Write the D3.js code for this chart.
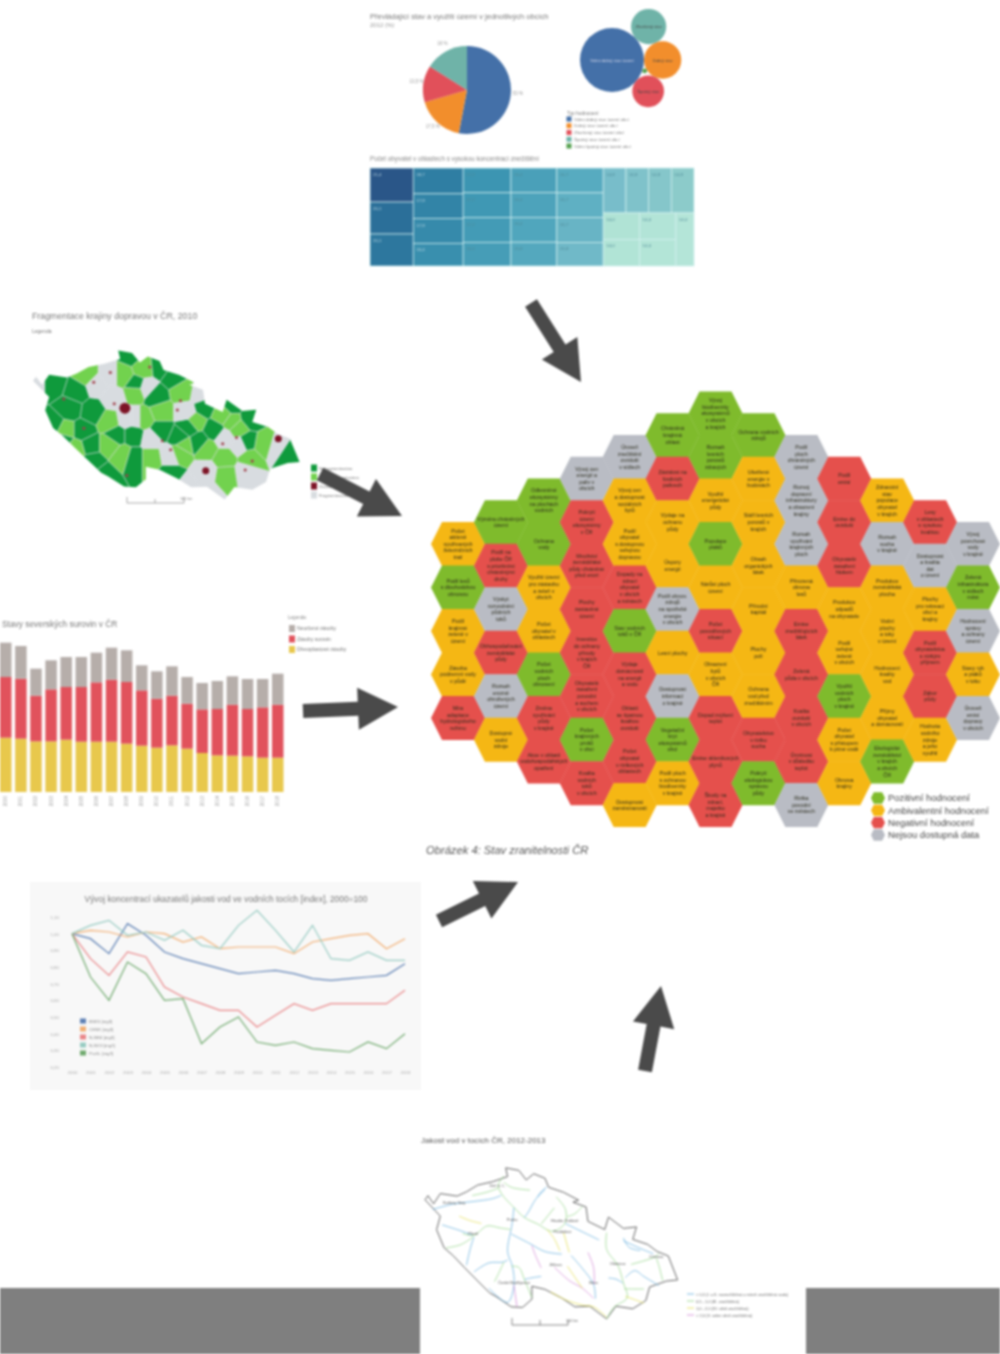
<!DOCTYPE html>
<html>
<head>
<meta charset="utf-8">
<script src="https://cdn.jsdelivr.net/npm/d3@7"></script>
<style>
  html, body { margin: 0; padding: 0; background: #fff; }
  svg { display: block; filter: blur(0.9px); font-family: "Liberation Sans", Arial, sans-serif; }
</style>
</head>
<body>
<svg id="chart" width="1000" height="1354"></svg>
<script>
// ---- data ----
const shareNames = ["Velmi dobrý stav", "Dobrý stav", "Zhoršený stav", "Špatný stav", "Velmi špatný stav"];
const pieValues = [53, 17.5, 13.5, 16];
const bubbleValues = [53, 18, 16, 0.3, 13];
const bubbleNames = ["Velmi dobrý stav území", "Dobrý stav", "Zhoršený stav", "", "Špatný stav"];

const treeColumns = [
  [1430, 1344, 1344],
  [1250, 1200, 1200, 1100],
  [1150, 1150, 1150, 1100],
  [1100, 1100, 1100, 1060],
  [1120, 1120, 1120, 1060]
];
const treeTopRow = [990, 990, 990, 990];
const treeBottomCols = [[936, 936], [936, 936], [936]];
const treeLabels = ["21,4", "20,1", "20,1", "18,7", "17,9", "17,9", "16,4", "17,2", "17,2", "17,2", "16,4",
  "16,4", "16,4", "16,4", "15,8", "16,7", "16,7", "16,7", "15,8", "14,8", "14,8", "14,8", "14,8", "14,0", "14,0", "14,0", "14,0", "14,0"];

const barYears = ["2000", "2001", "2002", "2003", "2004", "2005", "2006", "2007", "2008", "2009", "2010", "2011", "2012", "2013", "2014", "2015", "2016", "2017", "2018"];
const barYellow = [163, 160, 152, 152, 157, 151, 151, 151, 145, 139, 133, 140, 130, 117, 110, 109, 107, 103, 103];
const barRed = [182, 180, 137, 156, 158, 164, 178, 186, 185, 166, 147, 149, 135, 131, 139, 153, 142, 151, 159];
const barGrey = [103, 98, 81, 87, 90, 90, 89, 96, 95, 75, 82, 88, 80, 79, 84, 85, 90, 85, 93];
const barLegend = ["Neurčené zásoby", "Zásoby surovin", "Dřevoplastové zásoby"];

const lineYears = barYears;
const lineBlue = [1, .97, .88, 1.06, .99, .89, .85, .82, .79, .76, .77, .78, .76, .73, .72, .73, .74, .75, .82];
const lineOrange = [1, 1.02, 1.01, .98, 1.01, 1.0, .95, .98, .91, .92, .92, .92, .88, .95, .97, .99, 1.0, .91, .97];
const lineRed = [1, .85, .75, .89, .86, .68, .62, .58, .54, .54, .44, .51, .58, .54, .58, .58, .58, .58, .66];
const lineTeal = [1, 1.05, 1.08, .99, 1.01, .96, 1.02, .93, .91, 1.05, 1.14, 1.02, .89, 1.05, .85, .84, .89, .84, .84];
const lineGreen = [1, .74, .6, .83, .76, .6, .61, .34, .44, .5, .35, .33, .35, .31, .3, .29, .35, .31, .4];
const lineNames = ["BSK5 [mg/l]", "CHSK [mg/l]", "N-NH4 [mg/l]", "N-NO3 [mg/l]", "Pcelk. [mg/l]"];
const lineTicks = [.2, .3, .4, .5, .6, .7, .8, .9, 1, 1.1];

// hexagon grid: first half-row of every column, status letters and labels
const hexStart = [0, -1, -2, -3, -4, -5, -6, -5, -4, -3, -2, -1, 0];
const hexStatus = ["APAAN", "PNXNXA", "PPAAPNN", "XNNNNNPN", "XAANPNNNA", "PNAAXAXPA", "PPAPANANNN", "PAAAAAANP", "XXXANNNNX", "NNNAAPAA", "AXAAAAP", "NXANNA", "XPXAX"];
const hexLabels = [
  ["Počet|aktivně|využívaných|železničních|tratí", "Podíl lesů|s dlouhodobou|obnovou", "Podíl|krajinné|zeleně v|území", "Zásoba|podzemní vody|v půdě", "Míra|adaptace|hydrologického|režimu"],
  ["Výměra chráněných|území", "Podíl na|ploše ČR|s prioritními|chráněnými|druhy", "Výskyt|rozvodnění|půdních|toků", "Obhospodařování|zemědělské|půdy", "Rozsah|erozně|ohrožených|území", "Dostupné|vodní|zdroje"],
  ["Odlesněné|ekosystémy|na plochách|vodních", "Ochrana|vody", "Využití území|pro zástavbu|a zeleň v|obcích", "Počet|obyvatel v|oblastech", "Počet|vodních|ploch|obnovení", "Změna|využívání|půdy|v krajině", "Akce v oblasti|vodohospodářských|opatření"],
  ["Vývoj cen|energií a|paliv v|obcích", "Pokrytí|území|ekosystémy|v ČR", "Množství|zemědělské|půdy chráněné|před erozí", "Plochy|zastavěné|území", "Investice|do ochrany|přírody|v krajích|ČR", "Obyvatelé|zasažení|povodní|a suchem|v obcích", "Počet|krajinných|prvků|v obci", "Kvalita|vodních|toků|v obcích"],
  ["Úroveň|znečištění|ovzduší|v sídlech", "Vývoj cen|a dostupnost|sociálních|bytů", "Podíl|obyvatel|s dostupnou|veřejnou|dopravou", "Dopady na|zdraví|obyvatel|v obcích|a městech", "Stav vodních|toků v ČR", "Výdaje|domácností|na energii|a vodu", "Oblasti|se špatnou|kvalitou|ovzduší", "Počet|obyvatel|v rizikových|oblastech", "Dostupnost|zaměstnanosti"],
  ["Chráněná|krajinná|oblast", "Závislost na|fosilních|palivech", "Výdaje na|ochranu|půdy", "Úspory|energií", "Podíl obnov.|zdrojů|na spotřebě|energie|v obcích", "Lesní plochy", "Dostupnost|informací|o krajině", "Vegetační|kryt|ekosystémů|obcí", "Podíl ploch|s ochranou|biodiverzity|v krajině"],
  ["Vývoj|biodiverzity|ekosystémů|v obcích|a krajích", "Rozsah|lesních|porostů|zdravých", "Využití|energetické|půdy", "Populace|ptáků", "Nárůst ploch|území", "Počet|povodňových|situací", "Obsazení|bytů|v obcích|ČR", "Dopad zvýšení|teplot", "Emise skleníkových|plynů", "Škody na|zdraví,|majetku|a krajině"],
  ["Ochrana vodních|zdrojů", "Ušetřené|energie v|budovách", "Stáří lesních|porostů v|krajích", "Obsah|organických|látek", "Přírodní|kapitál", "Plochy|polí", "Ochrana|vod před|znečištěním", "Obyvatelstvo|v riziku|sucha", "Pokrytí|ekologickou|správou|půdy"],
  ["Podíl|ploch|chráněných|území", "Rozvoj|dopravní|infrastruktury|a obsazení|krajiny", "Rozsah|využívání|krajinných|ploch", "Přirozená|obnova|lesů", "Emise|znečišťujících|látek", "Zelená|půda v obcích", "Kvalita|ovzduší|v obcích", "Úmrtnost|v důsledku|teplot", "Rizika|povodní|ve městech"],
  ["Podíl|emisí", "Emise do|ovzduší", "Obyvatelé|zasažení|hlukem", "Produkce|odpadů|na obyvatele", "Podíl|veřejné|zeleně|v obcích", "Využití|vodních|ploch|v krajině", "Počet|obyvatel|s přístupem|k pitné vodě", "Obnova|krajiny"],
  ["Zdravotní|stav|populace|obyvatel|v krajích", "Rozsah|sucha|v krajině", "Produkce|zemědělská|plocha", "Vodní|plochy|a toky|v území", "Hodnocení|kvality|vod", "Příjmy|obyvatel|a domácností", "Ekologické|zemědělství|v krajích|a obcích|ČR"],
  ["Lesy|v oblastech|s vysokou|kvalitou", "Dostupnost|a kvalita|dat|o území", "Plochy|pro rekreaci|obcí a|krajiny", "Podíl|obyvatelstva|s nízkým|příjmem", "Zábor|půdy", "Hodnota|vodního|zdroje|a jeho|využití"],
  ["Vývoj|povrchové|vody|v krajině", "Zelená|infrastruktura|v sídlech|měst", "Hodnocení|správy|a ochrany|území", "Stavy ryb|a ptáků|v toku", "Úroveň|emisí|dopravy|v obcích"]
];
const hexLegend = ["Pozitivní hodnocení", "Ambivalentní hodnocení", "Negativní hodnocení", "Nejsou dostupná data"];

// Czech border [lon, lat], the maps in the picture are tilted so y gets a skew below
const czOutline = [[12.09, 50.25], [12.17, 50.33], [12.32, 50.2], [12.5, 50.4], [12.95, 50.4], [13.2, 50.5], [13.5, 50.65], [13.9, 50.75], [14.3, 50.88], [14.25, 51.03], [14.6, 51.02], [14.8, 50.87], [15.0, 51.0], [15.3, 50.95], [15.4, 50.8], [15.8, 50.75], [16.2, 50.65], [16.05, 50.6], [16.4, 50.55], [16.45, 50.3], [16.9, 50.2], [17.0, 50.43], [17.4, 50.27], [17.75, 50.33], [17.65, 50.1], [18.05, 50.05], [18.3, 49.95], [18.6, 49.9], [18.85, 49.5], [18.55, 49.45], [18.1, 49.3], [18.0, 49.05], [17.65, 48.87], [17.2, 48.87], [16.95, 48.62], [16.5, 48.8], [16.1, 48.75], [15.75, 48.87], [15.3, 48.98], [14.95, 49.0], [14.95, 48.77], [14.7, 48.6], [14.4, 48.58], [14.0, 48.72], [13.82, 48.77], [13.5, 48.95], [13.15, 49.15], [12.85, 49.33], [12.6, 49.45], [12.4, 49.75], [12.5, 50.0]];
// patches were read straight off the flat picture, so these go through the untilted scale
const patchDark = [[12.6, 50.47], [13.19, 50.35], [13.02, 50.08], [13.61, 50.02], [12.6, 49.8], [13.36, 49.7], [12.85, 49.59], [13.53, 49.48], [14.63, 49.64], [14.2, 49.64], [13.87, 48.98], [13.61, 49.2], [14.63, 49.26], [15.55, 48.99], [16.43, 50.1], [17.14, 50.13], [15.2, 50.27], [15.33, 50.76], [15.67, 50.6], [14.58, 50.95], [14.71, 50.46], [15.33, 49.72], [16.05, 49.78], [16.68, 49.72], [16.3, 49.53], [17.51, 49.53], [18.53, 49.31], [17.6, 49.91], [15.8, 49.59]];
const patchLight = [[14.37, 50.62], [14.88, 50.73], [14.7, 50.35], [15.9, 50.35], [13.44, 50.62], [12.9, 49.7], [13.19, 49.42], [14.03, 49.86], [14.03, 49.48], [14.37, 49.31], [15.33, 50.02], [14.9, 49.91], [15.9, 49.48], [16.5, 49.42], [16.97, 48.99], [17.6, 49.26], [17.14, 49.86], [17.3, 49.75], [17.95, 49.48], [16.9, 49.97], [16.2, 49.86], [15.8, 49.37], [16.94, 49.26], [15.1, 49.26]];
const patchGrey = [[14.12, 50.24], [14.46, 49.91], [14.96, 50.41], [15.98, 50.02], [16.49, 49.04], [16.49, 48.71], [17.34, 49.48], [18.27, 49.42], [12.17, 50.47], [13.7, 50.46], [16.32, 50.3], [15.55, 49.31], [16.94, 49.59], [15.98, 48.77], [17.5, 49.04], [14.7, 49.91], [16.57, 50.4], [15.1, 49.58], [14.05, 50.62], [13.0, 49.25]];
const cityBig = [[14.42, 50.08], [16.47, 49.06], [18.31, 49.58]];
const citySmall = [[13.38, 49.75], [14.47, 48.98], [15.58, 49.4], [15.83, 50.2], [15.75, 50.05], [15.05, 50.75], [14.05, 50.66], [13.63, 50.5], [12.87, 50.23], [17.25, 49.6], [17.65, 49.22], [17.47, 49.07], [15.37, 49.55], [16.9, 49.5], [14.15, 50.15]];
const fragLegend = ["Nefragmentováno", "Mírně fragmentováno", "Zástavba", "Fragmentováno"];

const rivers = [
  { name: "Vltava", q: 0, pts: [[13.8, 48.85], [14.3, 48.65], [14.47, 48.97], [14.43, 49.3], [14.3, 49.55], [14.42, 50.05], [14.47, 50.35]] },
  { name: "Labe", q: 1, pts: [[15.6, 50.65], [15.85, 50.45], [15.83, 50.2], [15.5, 50.03], [15.1, 50.12], [14.75, 50.2], [14.47, 50.35], [14.15, 50.55], [14.05, 50.7], [14.2, 50.88]] },
  { name: "Ohře", q: 0, pts: [[12.3, 50.1], [12.85, 50.25], [13.4, 50.35], [13.9, 50.45], [14.13, 50.53]] },
  { name: "Berounka", q: 1, pts: [[13.1, 49.75], [13.4, 49.75], [13.75, 49.95], [14.1, 49.95], [14.38, 49.95]] },
  { name: "Sázava", q: 0, pts: [[15.75, 49.65], [15.3, 49.65], [14.9, 49.75], [14.4, 49.87]] },
  { name: "Lužnice", q: 1, pts: [[14.95, 48.8], [14.75, 49.1], [14.6, 49.3], [14.4, 49.3]] },
  { name: "Otava", q: 0, pts: [[13.4, 49.1], [13.8, 49.3], [14.17, 49.35], [14.3, 49.4]] },
  { name: "Morava", q: 1, pts: [[16.95, 50.15], [16.95, 49.85], [17.25, 49.6], [17.4, 49.3], [17.5, 49.05], [17.15, 48.85], [16.95, 48.62]] },
  { name: "Bečva", q: 0, pts: [[18.35, 49.35], [17.95, 49.47], [17.7, 49.55], [17.45, 49.4]] },
  { name: "Dyje", q: 2, pts: [[15.45, 48.95], [15.85, 48.85], [16.3, 48.8], [16.6, 48.8], [16.95, 48.65]] },
  { name: "Jihlava", q: 3, pts: [[15.55, 49.4], [15.95, 49.2], [16.3, 49.1], [16.6, 48.95]] },
  { name: "Svratka", q: 0, pts: [[16.0, 49.65], [16.3, 49.45], [16.6, 49.2], [16.65, 48.95]] },
  { name: "Svitava", q: 3, pts: [[16.45, 49.75], [16.6, 49.5], [16.62, 49.2]] },
  { name: "Odra", q: 1, pts: [[17.6, 49.65], [17.95, 49.75], [18.25, 49.85], [18.35, 49.92]] },
  { name: "Opava", q: 0, pts: [[17.4, 50.05], [17.9, 49.95], [18.2, 49.9]] },
  { name: "Ostravice", q: 1, pts: [[18.45, 49.45], [18.35, 49.7], [18.28, 49.83]] },
  { name: "Orlice", q: 0, pts: [[16.75, 50.0], [16.3, 50.1], [15.85, 50.2]] },
  { name: "Jizera", q: 0, pts: [[15.3, 50.75], [15.05, 50.55], [14.85, 50.3], [14.75, 50.2]] },
  { name: "Ploučnice", q: 1, pts: [[14.9, 50.7], [14.4, 50.7], [14.2, 50.77]] },
  { name: "Chrudimka", q: 2, pts: [[15.95, 49.7], [15.8, 50.03]] },
  { name: "Cidlina", q: 1, pts: [[15.55, 50.45], [15.2, 50.13]] },
  { name: "Mže", q: 0, pts: [[12.55, 49.85], [13.0, 49.8], [13.35, 49.75]] },
  { name: "Malše", q: 3, pts: [[14.55, 48.6], [14.47, 48.97]] },
  { name: "Oslava", q: 2, pts: [[15.9, 49.45], [16.3, 49.1]] },
  { name: "Želivka", q: 3, pts: [[15.2, 49.35], [15.05, 49.55], [14.95, 49.72]] },
  { name: "Blanice", q: 1, pts: [[13.95, 48.98], [14.1, 49.2], [14.2, 49.35]] },
  { name: "Radbuza", q: 1, pts: [[12.65, 49.45], [13.05, 49.55], [13.38, 49.72]] },
  { name: "Úhlava", q: 0, pts: [[13.2, 49.2], [13.3, 49.5], [13.4, 49.72]] },
  { name: "Střela", q: 2, pts: [[13.0, 50.05], [13.3, 50.0], [13.6, 49.98]] },
  { name: "Bílina", q: 1, pts: [[13.35, 50.45], [13.75, 50.55], [14.05, 50.65]] },
  { name: "Doubrava", q: 2, pts: [[15.7, 49.7], [15.55, 49.9], [15.35, 50.05]] },
  { name: "Dřevnice", q: 1, pts: [[17.95, 49.25], [17.65, 49.22], [17.42, 49.2]] },
  { name: "Olšava", q: 2, pts: [[17.95, 49.0], [17.6, 49.05], [17.45, 49.07]] },
  { name: "Haná", q: 0, pts: [[17.0, 49.35], [17.2, 49.35], [17.38, 49.3]] },
  { name: "Moravice", q: 0, pts: [[17.4, 50.1], [17.55, 49.95], [17.85, 49.92]] },
  { name: "Nežárka", q: 0, pts: [[15.2, 49.2], [14.95, 49.15], [14.75, 49.1]] },
  { name: "Metuje", q: 1, pts: [[16.3, 50.55], [16.1, 50.4], [15.9, 50.33]] },
  { name: "Kamenice", q: 0, pts: [[15.35, 50.8], [15.2, 50.7], [15.1, 50.6]] }
];
const riverTowns = [["Praha", 14.42, 50.1], ["Plzeň", 13.38, 49.75], ["Hradec Králové", 15.83, 50.22], ["Pardubice", 15.77, 50.03], ["Jihlava", 15.58, 49.42], ["Brno", 16.6, 49.2], ["Ostrava", 18.28, 49.84], ["Olomouc", 17.25, 49.6], ["České Budějovice", 14.47, 49.0], ["Karlovy Vary", 12.87, 50.25], ["Ústí n. L.", 14.03, 50.66]];
const riverLegend = ["< 0,5 (I. a II. neznečištěná a mírně znečištěná voda)", "0,5 - 1,0 (III. znečištěná)", "1,0 - 2,0 (IV. silně znečištěná)", "> 2,0 (V. velmi silně znečištěná)"];

// ---- drawing ----
const svg = d3.select("#chart");
const grey = "#666";

// grey band behind the bottom map
svg.append("rect").attr("x", 0).attr("y", 1288).attr("width", 1000).attr("height", 66).attr("fill", "#7f7f7f");
svg.append("rect").attr("x", 420).attr("y", 1240).attr("width", 386).attr("height", 114).attr("fill", "#fff");

function label(g, x, y, text, size, fill, anchor) {
  return g.append("text").attr("x", x).attr("y", y).attr("font-size", size)
    .attr("fill", fill || grey).attr("text-anchor", anchor || "start").text(text);
}

// --- top: pie, bubbles, treemap ---
const shareColor = ["#4470a8", "#f28e2c", "#e1505a", "#6fb3a8", "#55a04f"];
const topG = svg.append("g");
label(topG, 370, 19, "Převládající stav a využití území v jednotlivých obcích", 7.5, "#777");
label(topG, 370, 27, "2012 (%)", 6, "#999");

const pieCx = 467, pieCy = 90;
const pieG = topG.append("g").attr("transform", `translate(${pieCx},${pieCy})`);
const pieArcs = d3.pie().sort(null)(pieValues);
const arc = d3.arc().innerRadius(0).outerRadius(44);
pieG.selectAll("path").data(pieArcs).join("path")
  .attr("d", arc)
  .attr("fill", (d, i) => [shareColor[0], shareColor[1], shareColor[2], shareColor[3]][i]);
const pieLabel = d3.arc().innerRadius(51).outerRadius(51);
pieG.selectAll("text").data(pieArcs).join("text")
  .attr("transform", d => `translate(${pieLabel.centroid(d)})`)
  .attr("text-anchor", "middle").attr("font-size", 4.5).attr("fill", "#999")
  .text(d => String(d.value).replace(".", ",") + " %");

const rScale = d3.scaleSqrt().domain([0, d3.max(bubbleValues)]).range([0, 32]);
const bubbles = bubbleValues.map((v, i) => ({ r: rScale(v), i }));
d3.packSiblings(bubbles);
const flip = bubbles[2].y > 0 ? -1 : 1;
const bubbleG = topG.append("g").attr("transform", `translate(${612 - bubbles[0].x},${60 - flip * bubbles[0].y})`);
bubbleG.selectAll("circle").data(bubbles).join("circle")
  .attr("cx", d => d.x).attr("cy", d => flip * d.y).attr("r", d => d.r)
  .attr("fill", d => [shareColor[0], shareColor[1], shareColor[3], shareColor[4], shareColor[2]][d.i]);
bubbleG.selectAll("text").data(bubbles).join("text")
  .attr("x", d => d.x).attr("y", d => flip * d.y + 1.5).attr("text-anchor", "middle")
  .attr("font-size", 4.2).attr("fill", d => d.i === 0 ? "#dde" : "#444")
  .text(d => bubbleNames[d.i]);

label(topG, 567, 115, "Typ hodnocení", 4.8, "#777");
shareNames.forEach((n, i) => {
  const y = d3.scaleLinear().domain([0, 4]).range([119, 146])(i);
  topG.append("rect").attr("x", 566.5).attr("y", y - 2.5).attr("width", 5).attr("height", 5).attr("fill", shareColor[i]);
  label(topG, 574, y + 1.5, n + " území obcí", 4.4, "#777");
});

label(topG, 370, 161, "Počet obyvatel v oblastech s vysokou koncentrací znečištění", 6.3, "#888");
const treeData = {
  children: [
    ...treeColumns.map(col => ({ children: col.map(value => ({ value })) })),
    {
      children: [
        { children: treeTopRow.map(value => ({ value })) },
        { children: treeBottomCols.map(col => ({ children: col.map(value => ({ value })) })) }
      ]
    }
  ]
};
const treeRoot = d3.hierarchy(treeData).sum(d => d.value || 0);
d3.treemap()
  .size([324, 98])
  .round(false)
  .tile((node, x0, y0, x1, y1) =>
    (node.depth % 2 === 0 ? d3.treemapDice : d3.treemapSlice)(node, x0, y0, x1, y1))(treeRoot);
const treeLeaves = treeRoot.leaves();
const treeColor = d3.scaleLinear()
  .domain([0, 1, 3, 7, 15, 19, 22, 23, 27])
  .range(["#2a5688", "#2b6f99", "#2f7ea3", "#3c95b2", "#57abc0", "#78bdca", "#8ccbca", "#b0e3d5", "#b4e5d8"]);
const treeG = topG.append("g").attr("transform", "translate(370,168)");
treeG.selectAll("rect").data(treeLeaves).join("rect")
  .attr("x", d => d.x0).attr("y", d => d.y0)
  .attr("width", d => d.x1 - d.x0).attr("height", d => d.y1 - d.y0)
  .attr("fill", (d, i) => treeColor(i)).attr("stroke", "#d4f0f0").attr("stroke-width", 0.7);
treeG.selectAll("text").data(treeLeaves).join("text")
  .attr("x", d => d.x0 + 3).attr("y", d => d.y0 + 8)
  .attr("font-size", 4.4).attr("fill", (d, i) => i < 7 ? "#bcd8e4" : "#4f8a98")
  .text((d, i) => treeLabels[i]);

// --- left: fragmentation map ---
const frag = svg.append("g");
label(frag, 32, 319, "Fragmentace krajiny dopravou v ČR, 2010", 8.8, "#777");
label(frag, 32, 333, "Legenda", 5, "#777");
const mapTilt = 0.15;
const fragX = d3.scaleLinear().domain([12.09, 18.86]).range([33, 300]);
const fragY = d3.scaleLinear().domain([48.56, 51.06]).range([494, 356]);
const fragFlatY = d3.scaleLinear().domain([48.55, 51.06]).range([502, 348]);
const fragLine = d3.line()
  .x(d => fragX(d[0]))
  .y(d => fragY(d[1]) + mapTilt * (fragX(d[0]) - fragX(15.47)))
  .curve(d3.curveLinearClosed);
svg.append("defs").append("clipPath").attr("id", "czClip").append("path").attr("d", fragLine(czOutline));
const fragCells = frag.append("g").attr("clip-path", "url(#czClip)");
const fragSeeds = [
  ...patchDark.map(p => ({ p, color: "#0f9a3c" })),
  ...patchLight.map(p => ({ p, color: "#72d24e" })),
  ...patchGrey.map(p => ({ p, color: "#d8dce0" }))
];
const fragVoronoi = d3.Delaunay.from(fragSeeds, d => fragX(d.p[0]), d => fragFlatY(d.p[1])).voronoi([20, 340, 310, 510]);
fragCells.selectAll("path").data(fragSeeds).join("path")
  .attr("d", (d, i) => fragVoronoi.renderCell(i))
  .attr("fill", d => d.color).attr("stroke", "#d8dce0").attr("stroke-width", 0.5);
fragCells.selectAll("circle.small").data(citySmall).join("circle").attr("class", "small")
  .attr("cx", d => fragX(d[0])).attr("cy", d => fragFlatY(d[1])).attr("r", 1.5).attr("fill", "#a0404a");
fragCells.selectAll("circle.big").data(cityBig).join("circle").attr("class", "big")
  .attr("cx", d => fragX(d[0])).attr("cy", d => fragFlatY(d[1]))
  .attr("r", (d, i) => i === 0 ? 5.5 : 3.5).attr("fill", "#7d1426");
// scale bar
frag.append("path").attr("d", "M127,497V503H184V497M155,499V503").attr("fill", "none").attr("stroke", "#888").attr("stroke-width", 0.7);
label(frag, 180, 500, "100 km", 3.8, "#888");
fragLegend.forEach((n, i) => {
  const y = d3.scaleLinear().domain([0, 3]).range([468, 495])(i);
  frag.append("rect").attr("x", 311).attr("y", y - 3.5).attr("width", 6).attr("height", 7)
    .attr("fill", ["#0f9a3c", "#72d24e", "#7d1426", "#d8dce0"][i]);
  label(frag, 319, y + 1.5, n, 4.2, "#777");
});

// --- left: stacked bars ---
const bars = svg.append("g");
label(bars, 2, 627, "Stavy severských surovin v ČR", 8.4, "#777");
const barX = d3.scaleBand().domain(barYears).range([-1.5, 285]).paddingInner(0.24).paddingOuter(0.1);
const barY = d3.scaleLinear().domain([0, 450]).range([792, 642]);
const barRows = barYears.map((y, i) => ({ year: y, yellow: barYellow[i], red: barRed[i], grey: barGrey[i] }));
const barStack = d3.stack().keys(["yellow", "red", "grey"])(barRows);
const barColor = d3.scaleOrdinal().domain(["yellow", "red", "grey"]).range(["#e8c84c", "#e1525c", "#b6aeaa"]);
bars.selectAll("g").data(barStack).join("g").attr("fill", d => barColor(d.key))
  .selectAll("rect").data(d => d).join("rect")
  .attr("x", d => barX(d.data.year)).attr("width", barX.bandwidth())
  .attr("y", d => barY(d[1])).attr("height", d => barY(d[0]) - barY(d[1]));
const barAxis = bars.append("g").attr("transform", "translate(0,792)")
  .call(d3.axisBottom(barX).tickSize(0).tickPadding(3));
barAxis.select(".domain").remove();
barAxis.selectAll("text").attr("font-size", 4.6).attr("fill", "#999")
  .attr("text-anchor", "end").attr("transform", "rotate(-90)").attr("x", -4).attr("y", 0).attr("dy", "0.32em");
label(bars, 288, 619, "Legenda", 4.6, "#888");
barLegend.forEach((n, i) => {
  const y = d3.scaleLinear().domain([0, 2]).range([628.5, 649.5])(i);
  bars.append("rect").attr("x", 289).attr("y", y - 3.5).attr("width", 6).attr("height", 7)
    .attr("fill", ["#b6aeaa", "#e1525c", "#e8c84c"][i]);
  label(bars, 297, y + 1.5, n, 5, "#777");
});

// --- left: index lines ---
const lines = svg.append("g");
lines.append("rect").attr("x", 30).attr("y", 882).attr("width", 391).attr("height", 208).attr("fill", "#f8f8f8");
label(lines, 226, 902, "Vývoj koncentrací ukazatelů jakosti vod ve vodních tocích [index], 2000=100", 8.4, "#777", "middle");
const lineX = d3.scalePoint().domain(lineYears).range([72, 405]);
const lineY = d3.scaleLinear().domain([.2, 1.1]).range([1067, 917]);
const yAxis = lines.append("g").attr("transform", "translate(62,0)")
  .call(d3.axisLeft(lineY).tickValues(lineTicks).tickSize(0).tickFormat(d => d3.format(".2f")(d).replace(".", ",")));
yAxis.select(".domain").remove();
yAxis.selectAll("text").attr("font-size", 4.4).attr("fill", "#aaa");
const xAxis = lines.append("g").attr("transform", "translate(0,1069)")
  .call(d3.axisBottom(lineX).tickSize(0).tickPadding(2));
xAxis.select(".domain").remove();
xAxis.selectAll("text").attr("font-size", 4.4).attr("fill", "#aaa");
const lineSeries = [lineBlue, lineOrange, lineRed, lineTeal, lineGreen];
const lineColors = ["#5c7fb3", "#f2ae72", "#e98587", "#97cbc2", "#6fa96d"];
const linePath = d3.line().x((d, i) => lineX(lineYears[i])).y(d => lineY(d));
lines.selectAll("path.series").data(lineSeries).join("path").attr("class", "series")
  .attr("d", linePath).attr("fill", "none").attr("stroke-width", 1.2)
  .attr("stroke", (d, i) => lineColors[i]);
lineNames.forEach((n, i) => {
  const y = d3.scaleLinear().domain([0, 4]).range([1021, 1053])(i);
  lines.append("rect").attr("x", 80).attr("y", y - 2.5).attr("width", 6).attr("height", 5).attr("fill", lineColors[i]);
  label(lines, 89, y + 1.5, n, 4.4, "#888");
});

// --- bottom: river map ---
const river = svg.append("g");
label(river, 421, 1143, "Jakost vod v tocích ČR, 2012-2013", 8, "#555");
const rivX = d3.scaleLinear().domain([12.09, 18.86]).range([425, 678]);
const rivY = d3.scaleLinear().domain([48.56, 51.06]).range([1314, 1173]);
const rivTilted = d => rivY(d[1]) + mapTilt * (rivX(d[0]) - rivX(15.47));
const rivOutline = d3.line().x(d => rivX(d[0])).y(rivTilted).curve(d3.curveLinearClosed);
river.append("path").attr("d", rivOutline(czOutline)).attr("fill", "#fff").attr("stroke", "#555").attr("stroke-width", 0.9);
const rivColor = ["#6fb4e0", "#9bd88f", "#e6e15c", "#d58fd8"];
const rivLine = d3.line().x(d => rivX(d[0])).y(rivTilted).curve(d3.curveCatmullRom);
river.selectAll("path.river").data(rivers).join("path").attr("class", "river")
  .attr("d", d => rivLine(d.pts)).attr("fill", "none").attr("stroke-width", 0.8)
  .attr("stroke", d => rivColor[d.q]);
river.selectAll("text.town").data(riverTowns).join("text").attr("class", "town")
  .attr("x", d => rivX(d[1])).attr("y", d => rivTilted([d[1], d[2]])).attr("text-anchor", "middle")
  .attr("font-size", 4).attr("fill", "#555").text(d => d[0]);
river.append("path").attr("d", "M512,1318V1325H568V1320M540,1320V1325").attr("fill", "none").attr("stroke", "#555").attr("stroke-width", 0.7);
label(river, 566, 1322, "100 km", 3.6, "#666");
riverLegend.forEach((n, i) => {
  const y = d3.scaleLinear().domain([0, 3]).range([1294, 1315])(i);
  river.append("line").attr("x1", 687).attr("x2", 694).attr("y1", y).attr("y2", y)
    .attr("stroke", rivColor[i]).attr("stroke-width", 0.9);
  label(river, 696, y + 1.5, n, 4, "#666");
});

// --- centre: hexagon map ---
const hex = svg.append("g");
const hexX = d3.scaleLinear().domain([0, 12]).range([458, 973]);
const hexY = d3.scaleLinear().domain([0, 12]).range([544, 805]);
const hexColor = d3.scaleOrdinal().domain(["P", "A", "N", "X"]).range(["#7fbb2c", "#f5b714", "#e5504c", "#b9bcc4"]);
const hexCells = [];
hexStatus.forEach((col, c) => {
  col.split("").forEach((s, j) => {
    hexCells.push({ c, k: hexStart[c] + 2 * j, s, text: hexLabels[c][j].split("|") });
  });
});
const hexW = 27, hexI = 16, hexH = 21.9;
const hexShape = d3.line()([[-hexW, 0], [-hexI, -hexH], [hexI, -hexH], [hexW, 0], [hexI, hexH], [-hexI, hexH]]) + "Z";
const cell = hex.selectAll("g").data(hexCells).join("g")
  .attr("transform", d => `translate(${hexX(d.c)},${hexY(d.k)})`);
cell.append("path").attr("d", hexShape).attr("fill", d => hexColor(d.s));
cell.each(function (d) {
  const lineH = 6.6;
  d3.select(this).selectAll("text").data(d.text).join("text")
    .attr("y", (t, i) => (i - (d.text.length - 1) / 2) * lineH + 1.8)
    .attr("text-anchor", "middle").attr("font-size", 5.3).attr("fill", "#2a2a1a")
    .text(t => t);
});
label(hex, 426, 854, "Obrázek 4: Stav zranitelnosti ČR", 11.2, "#555").attr("font-style", "italic");
hexLegend.forEach((n, i) => {
  const y = d3.scaleLinear().domain([0, 3]).range([798, 835])(i);
  hex.append("path").attr("transform", `translate(878,${y}) scale(0.26)`).attr("d", hexShape)
    .attr("fill", hexColor.range()[i]);
  label(hex, 888, y + 3.2, n, 9.4, "#444");
});

// --- arrows ---
const arrowFlows = [
  [[531, 303], [581, 382]],
  [[320, 474], [402, 516]],
  [[303, 711], [398, 707]],
  [[439, 921], [518, 882]],
  [[645, 1071], [661, 986]]
];
const arrowPath = d3.line();
function arrowShape(a, b) {
  const dx = b[0] - a[0], dy = b[1] - a[1], len = Math.hypot(dx, dy);
  const ux = dx / len, uy = dy / len, nx = -uy, ny = ux;
  const shaft = 7, head = 21, headLen = 40;
  const bx = b[0] - ux * headLen, by = b[1] - uy * headLen;
  return arrowPath([
    [a[0] + nx * shaft, a[1] + ny * shaft],
    [bx + nx * shaft, by + ny * shaft],
    [bx + nx * head, by + ny * head],
    b,
    [bx - nx * head, by - ny * head],
    [bx - nx * shaft, by - ny * shaft],
    [a[0] - nx * shaft, a[1] - ny * shaft]
  ]) + "Z";
}
svg.append("g").selectAll("path").data(arrowFlows).join("path")
  .attr("d", d => arrowShape(d[0], d[1])).attr("fill", "#4a4a4a");
</script>
</body>
</html>
